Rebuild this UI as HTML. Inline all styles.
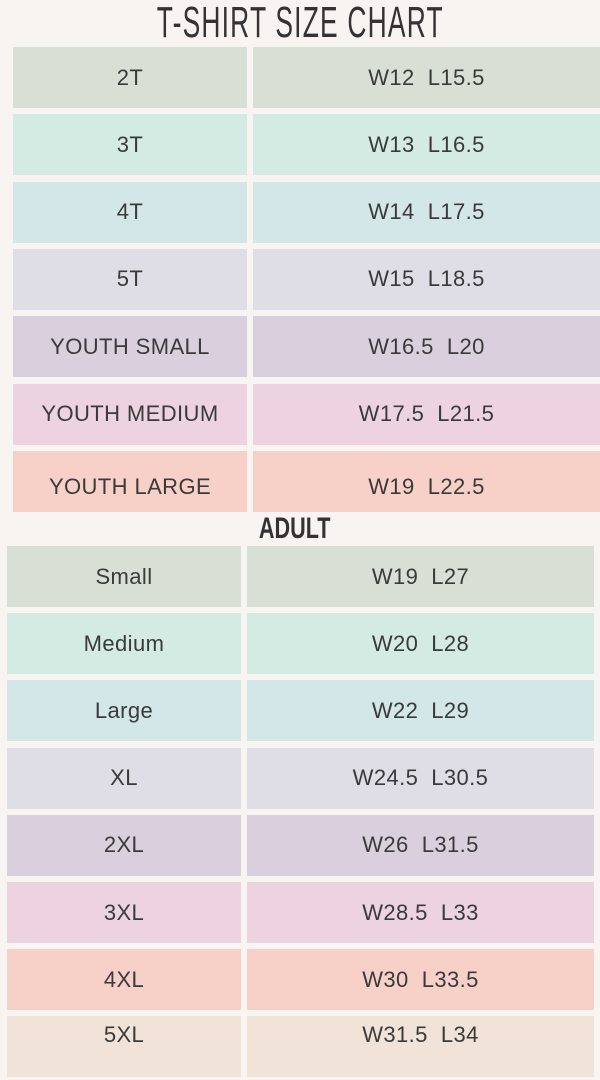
<!DOCTYPE html>
<html><head><meta charset="utf-8"><style>
body{margin:0;width:600px;height:1080px;background:#f8f4f1;position:relative;overflow:hidden;font-family:"Liberation Sans",sans-serif;color:#3a3a3a}
.c{position:absolute;height:61px;display:flex;align-items:center;justify-content:center;font-size:22px;letter-spacing:0.4px}
.t{position:absolute;left:0;width:600px;text-align:center;font-family:"Liberation Sans Narrow","Liberation Sans",sans-serif;color:#333}
</style></head><body>
<div class="t" style="top:-2px;font-size:44px;"><span style="display:inline-block;transform:scaleX(0.6);letter-spacing:2px">T-SHIRT SIZE CHART</span></div>
<div class="t" style="top:512px;font-size:30px;font-weight:bold;left:-5px"><span style="display:inline-block;transform:scaleX(0.72)">ADULT</span></div>
<div id="r"></div>
<script>
var cols=["#d8e0d6","#d3ebe3","#d3e6e8","#dfdde6","#dacfdc","#ecd3df","#f7d0c8","#f2e3d9"];
var y=[["2T","W12&nbsp;&nbsp;L15.5"],["3T","W13&nbsp;&nbsp;L16.5"],["4T","W14&nbsp;&nbsp;L17.5"],["5T","W15&nbsp;&nbsp;L18.5"],["YOUTH SMALL","W16.5&nbsp;&nbsp;L20"],["YOUTH MEDIUM","W17.5&nbsp;&nbsp;L21.5"],["YOUTH LARGE","W19&nbsp;&nbsp;L22.5"]];
var a=[["Small","W19&nbsp;&nbsp;L27"],["Medium","W20&nbsp;&nbsp;L28"],["Large","W22&nbsp;&nbsp;L29"],["XL","W24.5&nbsp;&nbsp;L30.5"],["2XL","W26&nbsp;&nbsp;L31.5"],["3XL","W28.5&nbsp;&nbsp;L33"],["4XL","W30&nbsp;&nbsp;L33.5"],["5XL","W31.5&nbsp;&nbsp;L34"]];
var h="";
y.forEach(function(r,i){var t=47+i*67.3;var st=i==6?'padding-top:12px;box-sizing:border-box;':'';h+='<div class="c" style="'+st+'left:13px;width:234px;top:'+t+'px;background:'+cols[i]+'">'+r[0]+'</div><div class="c" style="'+st+'left:253px;width:347px;top:'+t+'px;background:'+cols[i]+'">'+r[1]+'</div>';});
a.forEach(function(r,i){var t=546+i*67.2;var st=i==7?'align-items:flex-start;padding-top:6px;box-sizing:border-box;':'';h+='<div class="c" style="'+st+'left:7px;width:234px;top:'+t+'px;background:'+cols[i]+'">'+r[0]+'</div><div class="c" style="'+st+'left:247px;width:347px;top:'+t+'px;background:'+cols[i]+'">'+r[1]+'</div>';});
document.getElementById("r").innerHTML=h;
</script>
</body></html>
